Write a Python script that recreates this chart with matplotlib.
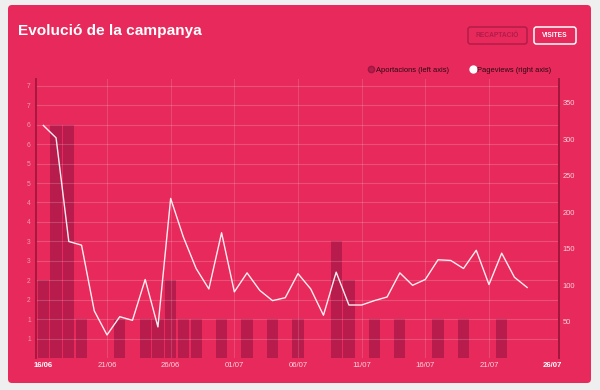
import math
import datetime as dt
import matplotlib
matplotlib.use("Agg")
import matplotlib.pyplot as plt
from matplotlib.patches import FancyBboxPatch
from matplotlib.lines import Line2D

plt.rcParams['font.family'] = ['Liberation Sans', 'DejaVu Sans']

# dades: un valor per dia des del 16/06
start = dt.date(2014, 6, 16)
n_days = 41
aportacions = [2, 6, 6, 1, 0, 0, 1, 0, 1, 1, 2, 1, 1, 0, 1, 0, 1, 0, 1, 0,
               1, 0, 0, 3, 2, 0, 1, 0, 1, 0, 0, 1, 0, 1, 0, 0, 1, 0, 0, 0, 0]
pageviews = [319, 302, 160, 155, 65, 32, 57, 52, 108, 43, 219, 166, 123, 95,
             172, 91, 117, 93, 79, 83, 116, 95, 59, 118, 73, 73, 79, 84, 117,
             100, 108, 135, 134, 123, 148, 101, 144, 111, 97]
left_ticks = [0.5 * k for k in range(1, 15)]
right_ticks = [50, 100, 150, 200, 250, 300, 350]
date_ticks = list(range(0, n_days, 5))

PINK = '#e7295b'
BAR = '#b71c4c'
AXIS = '#a3173f'
W, H = 600, 390


def fx(x):
    return x / W


def fy(y):
    return 1 - y / H


fig = plt.figure(figsize=(6, 3.9), dpi=100, facecolor='#efefef')

card = FancyBboxPatch((8 / 100, (H - 383) / 100), 583 / 100, 378 / 100,
                      boxstyle='round,pad=0,rounding_size=0.04',
                      transform=fig.dpi_scale_trans, facecolor=PINK,
                      edgecolor='none', zorder=-10)
fig.patches.append(card)

fig.text(fx(18), fy(31), 'Evolució de la campanya', color='white',
         fontsize=11.1, fontweight='bold', va='center', ha='left')

# botons
for (x0, x1, label, col) in [(468, 527, 'RECAPTACIÓ', '#b31c4a'),
                             (534, 576, 'VISITES', 'white')]:
    b = FancyBboxPatch((x0 / 100, (H - 44) / 100), (x1 - x0) / 100, 17 / 100,
                       boxstyle='round,pad=0,rounding_size=0.025',
                       transform=fig.dpi_scale_trans, facecolor='none',
                       edgecolor=col, linewidth=1.1, zorder=-5)
    fig.patches.append(b)
    fig.text(fx((x0 + x1) / 2), fy(35.5), label, color=col, fontsize=4.8,
             fontweight='bold', ha='center', va='center')

# llegenda
fig.add_artist(Line2D([fx(371)], [fy(69)], marker='o', markersize=4.5,
                      markerfacecolor=BAR, markeredgecolor='#9e1740',
                      linestyle='none', transform=fig.transFigure))
fig.text(fx(375.5), fy(70), 'Aportacions (left axis)', color='#2a0a14',
         fontsize=5.4, ha='left', va='center')
fig.add_artist(Line2D([fx(473)], [fy(69)], marker='o', markersize=5,
                      markerfacecolor='white', markeredgecolor='white',
                      linestyle='none', transform=fig.transFigure))
fig.text(fx(477.5), fy(70), 'Pageviews (right axis)', color='#2a0a14',
         fontsize=5.4, ha='left', va='center')

ax = fig.add_axes([fx(35.7), fy(358.3), fx(559 - 35.7), (358.3 - 79) / H])
ax.set_facecolor('none')
days = list(range(n_days))
ax.bar(days, aportacions, width=0.88, color=BAR, zorder=1)
ax.set_xlim(-0.6, 40.5)
ax.set_ylim(0, 7.17)
ax.set_yticks(left_ticks)
ax.set_yticklabels([str(int(math.floor(v + 0.5))) for v in left_ticks])
ax.set_xticks(date_ticks)
labels = [(start + dt.timedelta(days=d)).strftime('%d/%m') for d in date_ticks]
ax.set_xticklabels(labels)
for k, t in enumerate(ax.get_xticklabels()):
    if k in (0, len(date_ticks) - 1):
        t.set_fontweight('bold')
        t.set_color('white')
    else:
        t.set_color('#fbd3de')
ax.tick_params(axis='x', length=0, pad=3, labelsize=5.6)
ax.tick_params(axis='y', length=0, pad=3.5, labelsize=4.8, labelcolor='#f49ab2')
for v in left_ticks:
    ax.axhline(v, color='white', alpha=0.18, linewidth=0.8, zorder=2)
for d in date_ticks[1:-1]:
    ax.axvline(d, color='white', alpha=0.15, linewidth=0.8, zorder=2)
for s in ('top', 'bottom'):
    ax.spines[s].set_visible(False)
ax.spines['left'].set_color(AXIS)
ax.spines['left'].set_linewidth(1.3)
ax.spines['right'].set_color(AXIS)
ax.spines['right'].set_linewidth(1.3)

ax2 = ax.twinx()
ax2.plot(range(len(pageviews)), pageviews, color='white', alpha=0.92,
         linewidth=1.0, zorder=3)
ax2.set_ylim(0, 382.6)
ax2.set_yticks(right_ticks)
ax2.tick_params(axis='y', length=0, pad=2.5, labelsize=5.4, labelcolor='#fbd3de')
for s in ('top', 'bottom', 'left'):
    ax2.spines[s].set_visible(False)
ax2.spines['right'].set_color(AXIS)
ax2.spines['right'].set_linewidth(1.3)

fig.savefig('out.png', dpi=100, facecolor=fig.get_facecolor())
